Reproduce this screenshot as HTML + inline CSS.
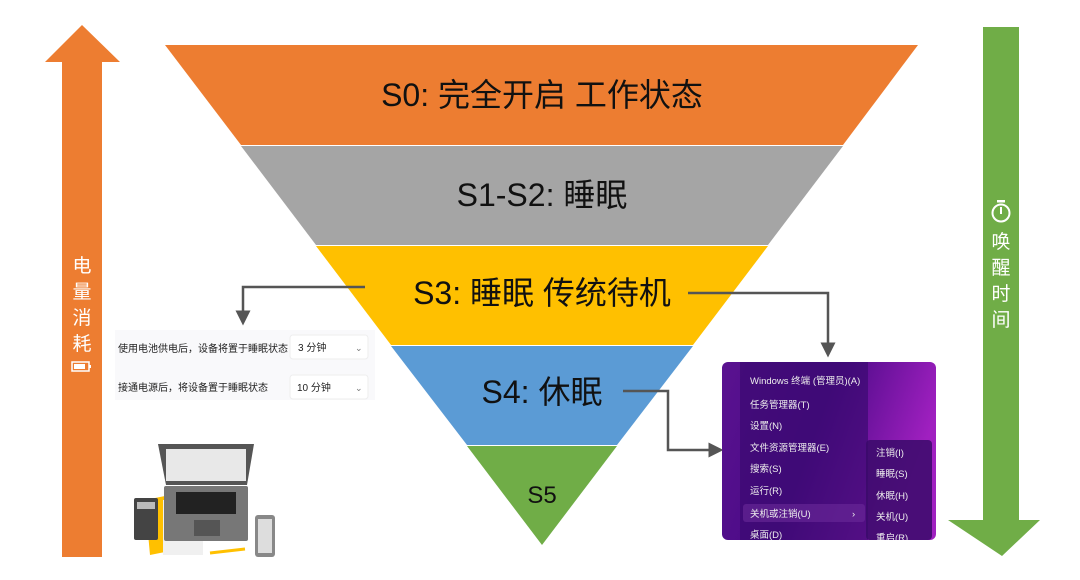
<!DOCTYPE html>
<html><head><meta charset="utf-8"><style>
html,body{margin:0;padding:0;background:#fff;width:1080px;height:580px;overflow:hidden}
text{font-family:"Liberation Sans","Noto Sans CJK SC",sans-serif}
</style></head><body>
<svg width="1080" height="580" xmlns="http://www.w3.org/2000/svg">
<defs>
<linearGradient id="pg" x1="0" y1="0" x2="1" y2="0.3">
<stop offset="0" stop-color="#5a1290"/><stop offset="0.5" stop-color="#4a0a86"/><stop offset="1" stop-color="#a020c0"/>
</linearGradient>
<marker id="ah" markerWidth="6" markerHeight="6" refX="3" refY="3" orient="auto"><path d="M0,0 L6,3 L0,6 z" fill="#555"/></marker>
</defs>
<polygon points="82,25 120,62 102,62 102,557 62,557 62,62 45,62" fill="#ed7d31"/>
<text x="82" y="272" font-size="19" fill="#fff" text-anchor="middle">电</text>
<text x="82" y="298" font-size="19" fill="#fff" text-anchor="middle">量</text>
<text x="82" y="324" font-size="19" fill="#fff" text-anchor="middle">消</text>
<text x="82" y="350" font-size="19" fill="#fff" text-anchor="middle">耗</text>
<rect x="72" y="362" width="17" height="9" fill="none" stroke="#fff" stroke-width="1.5"/><rect x="89" y="365" width="2" height="3" fill="#fff"/><rect x="74" y="364" width="11" height="5" fill="#fff"/>
<polygon points="983,27 1019,27 1019,520 1040,520 1002,556 948,520 983,520" fill="#70ad47"/>
<circle cx="1001" cy="213" r="8.5" fill="none" stroke="#fff" stroke-width="2"/><rect x="997" y="200" width="8" height="2.5" fill="#fff"/><line x1="1001" y1="207" x2="1001" y2="214" stroke="#fff" stroke-width="2"/>
<text x="1001" y="248" font-size="19" fill="#fff" text-anchor="middle">唤</text>
<text x="1001" y="274" font-size="19" fill="#fff" text-anchor="middle">醒</text>
<text x="1001" y="300" font-size="19" fill="#fff" text-anchor="middle">时</text>
<text x="1001" y="326" font-size="19" fill="#fff" text-anchor="middle">间</text>
<polygon points="165,45 918,45 843,145 241,145" fill="#ed7d31"/>
<polygon points="241,146 843,146 768,245 316,245" fill="#a5a5a5"/>
<polygon points="316,246 768,246 693,345 391,345" fill="#ffc000"/>
<polygon points="391,346 693,346 617,445 467,445" fill="#5b9bd5"/>
<polygon points="467,446 617,446 542,545" fill="#70ad47"/>
<text x="542" y="106" font-size="32" fill="#111" text-anchor="middle">S0: 完全开启 工作状态</text>
<text x="542" y="206" font-size="32" fill="#111" text-anchor="middle">S1-S2: 睡眠</text>
<text x="542" y="304" font-size="32" fill="#111" text-anchor="middle">S3: 睡眠 传统待机</text>
<text x="542" y="403" font-size="32" fill="#111" text-anchor="middle">S4: 休眠</text>
<text x="542" y="503" font-size="24" fill="#111" text-anchor="middle">S5</text>
<polyline points="365,287 243,287 243,318" fill="none" stroke="#555" stroke-width="2.5" marker-end="url(#ah)"/>
<polyline points="688,293 828,293 828,350" fill="none" stroke="#555" stroke-width="2.5" marker-end="url(#ah)"/>
<polyline points="623,391 668,391 668,450 716,450" fill="none" stroke="#555" stroke-width="2.5" marker-end="url(#ah)"/>
<rect x="115" y="330" width="260" height="70" fill="#f9f9fb"/>
<text x="118" y="352" font-size="10" fill="#222">使用电池供电后，设备将置于睡眠状态</text>
<rect x="290" y="335" width="78" height="24" rx="3" fill="#fff" stroke="#eee"/>
<text x="298" y="351" font-size="10" fill="#222">3 分钟</text><text x="355" y="351" font-size="9" fill="#777">⌄</text>
<text x="118" y="391" font-size="10" fill="#222">接通电源后，将设备置于睡眠状态</text>
<rect x="290" y="375" width="78" height="24" rx="3" fill="#fff" stroke="#eee"/>
<text x="297" y="391" font-size="10" fill="#222">10 分钟</text><text x="355" y="391" font-size="9" fill="#777">⌄</text>
<polygon points="145,500 170,495 185,548 150,555" fill="#ffc000"/>
<rect x="163" y="500" width="40" height="55" fill="#f0f0f0"/>
<rect x="134" y="498" width="24" height="42" rx="2" fill="#444"/><rect x="137" y="502" width="18" height="7" fill="#bbb"/>
<polygon points="158,444 254,444 247,485 166,485" fill="#555"/>
<rect x="166" y="449" width="80" height="32" fill="#e8e8e8"/>
<rect x="164" y="486" width="84" height="55" rx="2" fill="#777"/>
<rect x="176" y="492" width="60" height="22" fill="#222"/>
<rect x="194" y="520" width="26" height="16" fill="#555"/>
<line x1="210" y1="553" x2="245" y2="549" stroke="#ffc000" stroke-width="3"/>
<rect x="255" y="515" width="20" height="42" rx="3" fill="#888"/><rect x="258" y="519" width="14" height="34" fill="#ddd"/>
<rect x="722" y="362" width="214" height="178" rx="6" fill="url(#pg)"/>
<rect x="740" y="362" width="128" height="178" fill="#3a0a70" opacity="0.7"/>
<rect x="866" y="440" width="66" height="100" rx="4" fill="#3a0a6a" opacity="0.85"/>
<rect x="743" y="504" width="122" height="18" rx="3" fill="#6a2a9a" opacity="0.6"/>
<g font-size="9.5" fill="#eee">
<text x="750" y="384">Windows 终端 (管理员)(A)</text>
<text x="750" y="408">任务管理器(T)</text>
<text x="750" y="429">设置(N)</text>
<text x="750" y="451">文件资源管理器(E)</text>
<text x="750" y="472">搜索(S)</text>
<text x="750" y="494">运行(R)</text>
<text x="750" y="517">关机或注销(U)</text><text x="852" y="517">›</text>
<text x="750" y="538">桌面(D)</text>
<text x="876" y="456">注销(I)</text>
<text x="876" y="477">睡眠(S)</text>
<text x="876" y="499">休眠(H)</text>
<text x="876" y="520">关机(U)</text>
<text x="876" y="541">重启(R)</text>
</g>
<rect x="715" y="540" width="230" height="40" fill="#fff"/>
</svg>
</body></html>
